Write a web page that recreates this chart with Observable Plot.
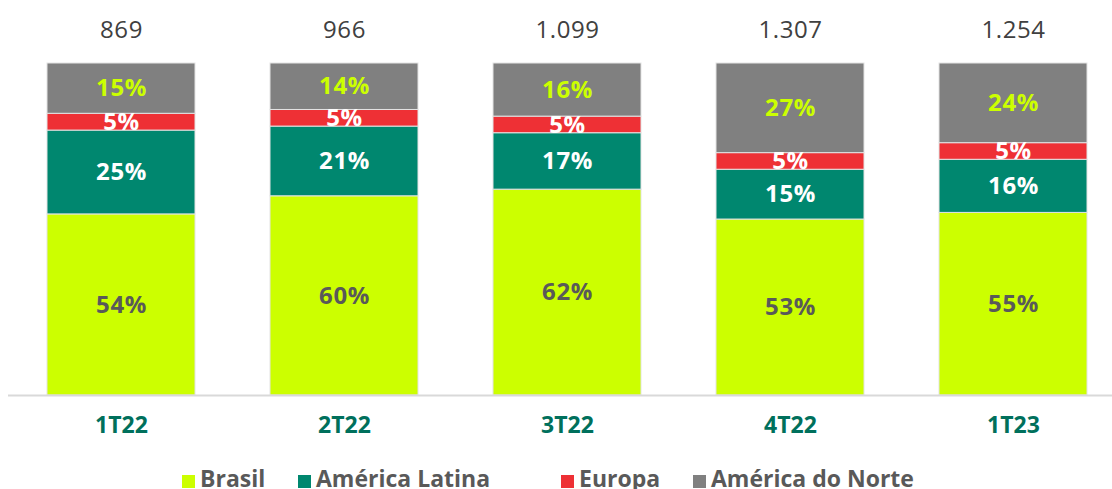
<!DOCTYPE html>
<html>
<head>
<meta charset="utf-8">
<script src="https://cdn.jsdelivr.net/npm/d3@7"></script>
<script src="https://cdn.jsdelivr.net/npm/@observablehq/plot@0.6"></script>
<style>
  body { margin: 0; background: #fff; font-family: "Open Sans", sans-serif; overflow: hidden; }
  #legend { position: relative; width: 1112px; height: 34px;
            font-family: "Open Sans", sans-serif; font-weight: 700; font-size: 23px; color: #595959; }
  .item { position: absolute; top: 6px; display: flex; align-items: center; line-height: 34px; white-space: nowrap; }
  .sw { width: 13px; height: 13px; margin-right: 5px; margin-top: 6px; }
  .pct { letter-spacing: 0.6px; }
</style>
</head>
<body>
<div id="chart"></div>
<div id="legend"></div>
<script>
const categories = ["1T22", "2T22", "3T22", "4T22", "1T23"];
const totals = ["869", "966", "1.099", "1.307", "1.254"];
const series = ["Brasil", "América Latina", "Europa", "América do Norte"];
const brasil = [54, 60, 62, 53, 55];
const latam = [25, 21, 17, 15, 16];
const europa = [5, 5, 5, 5, 5];
const norte = [15, 14, 16, 27, 24];
const colors = ["#CCFF00", "#00876F", "#EE3035", "#808080"];
const labelColors = ["#595959", "#ffffff", "#ffffff", "#CCFF00"];
const legendX = [182, 298, 561, 693];

const seriesValues = [brasil, latam, europa, norte];
const rows = [];
categories.forEach((c, i) => {
  series.forEach((s, k) => rows.push({cat: c, series: s, value: seriesValues[k][i]}));
});

const stackOpts = {offset: "normalize", x: "cat", y: "value", z: "series", order: series};

const marks = [
  Plot.barY(rows, Plot.stackY({...stackOpts, fill: "series", stroke: "#e3e3e3", strokeWidth: 1})),
  Plot.ruleY([0], {stroke: "#d9d9d9", strokeWidth: 2}),
  Plot.axisX({tickSize: 0, tickPadding: 21, fontSize: 23, fontWeight: 700, fill: "#00705C", label: null}),
  Plot.text(categories, {x: d => d, y: () => 1, text: (d, i) => totals[i], dy: -33, fontSize: 24, fill: "#404040", className: "pct"})
];
series.forEach((s, k) => {
  marks.push(Plot.text(rows, Plot.stackY({...stackOpts,
    text: d => d.series === s ? d.value + "%" : "",
    fill: labelColors[k], fontSize: 24, fontWeight: 700, className: "pct"})));
});

const chart = Plot.plot({
  width: 1112,
  height: 455,
  marginLeft: 8,
  marginRight: 0,
  marginTop: 63,
  marginBottom: 60,
  style: {fontFamily: "'Open Sans', sans-serif", background: "#fff"},
  x: {domain: categories, range: [8.5, 1125], paddingInner: 0.337, paddingOuter: 0.1685, axis: null},
  y: {domain: [0, 1], axis: null},
  color: {domain: series, range: colors},
  marks
});
document.getElementById("chart").append(chart);

const legend = document.getElementById("legend");
series.forEach((s, k) => {
  const item = document.createElement("div");
  item.className = "item";
  item.style.left = legendX[k] + "px";
  const sw = document.createElement("span");
  sw.className = "sw";
  sw.style.background = colors[k];
  const t = document.createElement("span");
  t.textContent = s;
  item.append(sw, t);
  legend.append(item);
});
</script>
</body>
</html>
